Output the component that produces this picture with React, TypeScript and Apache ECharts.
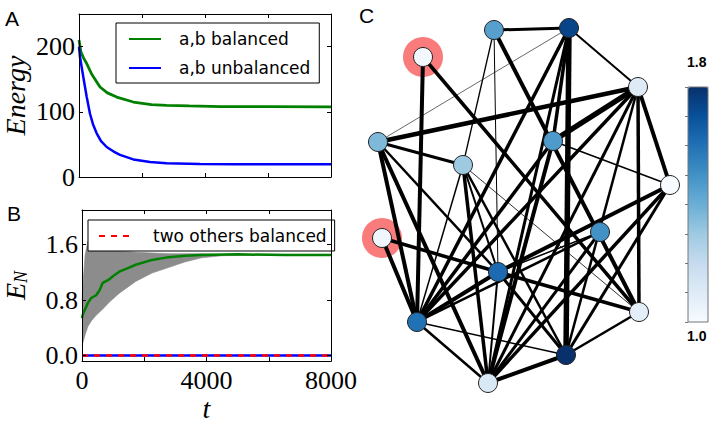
import React, { useEffect, useRef } from 'react';
import * as echarts from 'echarts';

// ---------- Panel A: Energy vs t ----------
const balancedT = [0, 60, 150, 245, 400, 667, 900, 1196, 1725, 2300, 2783, 3500, 4500, 6000, 8000];
const balancedE = [210, 192, 182, 174, 158, 138, 129, 122.6, 115, 111, 110, 109, 108, 108, 107.5];
const unbalancedT = [0, 32, 138, 244, 349, 450, 561, 700, 878, 1100, 1302, 1725, 2254, 2783, 3841, 5000, 8000];
const unbalancedE = [200, 184, 153, 123, 97, 80, 67, 55, 46, 39, 34, 27, 23, 21, 20, 19.5, 19.5];
const energyTicks = [0, 100, 200];

// ---------- Panel B: E_N vs t ----------
const bandT = [0, 40, 100, 190, 300, 455, 667, 900, 1200, 1725, 2250, 2780, 3300, 3840, 4500, 6000, 8000];
const bandLow = [0.15, 0.2, 0.3, 0.42, 0.5, 0.58, 0.67, 0.78, 0.9, 1.07, 1.19, 1.27, 1.35, 1.41, 1.44, 1.45, 1.45];
const bandHigh = [0.8, 1.1, 1.45, 1.65, 1.6, 1.56, 1.54, 1.54, 1.51, 1.49, 1.48, 1.47, 1.47, 1.47, 1.46, 1.46, 1.46];
const enT = [0, 32, 190, 296, 455, 561, 667, 878, 1037, 1196, 1513, 1725, 2254, 2783, 3312, 3841, 5000, 6500, 8000];
const enV = [0.54, 0.6, 0.76, 0.83, 0.87, 0.94, 1.05, 1.1, 1.16, 1.21, 1.27, 1.31, 1.38, 1.42, 1.44, 1.45, 1.46, 1.45, 1.45];
const othersT = [0, 8000];
const othersV = [0, 0];
const enTicks = [0, 0.8, 1.6];

// ---------- Panel C: network ----------
const nodeX = [494, 569, 423, 638, 378, 553, 463, 670, 600, 382, 498, 417, 639, 566, 488];
const nodeY = [30, 28, 57, 87, 142, 141, 165, 185, 232, 238, 272, 322, 312, 355, 383];
const nodeValue = [1.45, 1.74, 1.02, 1.1, 1.36, 1.47, 1.3, 1.0, 1.5, 1.03, 1.62, 1.6, 1.08, 1.8, 1.12];
const markedNodes = [3, 10];
const edgeSource = [1, 2, 2, 1, 1, 7, 1, 2, 2, 2, 3, 3, 5, 5, 5, 5, 5, 4, 4, 4, 4, 4, 4, 6, 6, 6, 7, 7, 7, 7, 8, 9, 8, 8, 9, 9, 10, 10, 11, 11, 11, 11, 12, 12, 13, 14, 2];
const edgeTarget = [2, 4, 5, 11, 7, 12, 13, 14, 6, 12, 12, 13, 4, 7, 12, 15, 11, 6, 8, 13, 12, 15, 14, 8, 15, 12, 15, 11, 14, 13, 11, 11, 14, 15, 15, 12, 11, 12, 12, 13, 14, 15, 14, 15, 14, 15, 15];
const edgeWidth = [3, 2, 0.6, 1, 1.3, 1.5, 4, 5.5, 3.5, 3.5, 4, 3.5, 4.5, 3, 4, 4, 2.5, 5.5, 4, 3.5, 3.5, 3, 2.5, 1.5, 4, 3.5, 3.5, 2, 2.5, 0.8, 4, 1.5, 3, 3.5, 3, 2.5, 3.5, 4, 4, 3.5, 3, 2, 1.5, 2.5, 2.5, 4, 3];
const colorMin = 1.0;
const colorMax = 1.8;
const blues = ['#f7fbff', '#deebf7', '#c6dbef', '#9ecae1', '#6baed6', '#4292c6', '#2171b5', '#08519c', '#08306b'];

const pairs = (xs: number[], ys: number[]) => xs.map((x, i) => [x, ys[i]]);

const serif = 'Liberation Serif';
const sans = 'DejaVu Sans';

function frameAxes(gridIndex: number, opts: any) {
  const tick = { show: true, inside: true, length: 4, lineStyle: { color: '#000', width: 1 } };
  const line = { show: true, onZero: false, lineStyle: { color: '#000', width: 1 } };
  return {
    x: [
      {
        type: 'value', gridIndex, position: 'bottom', min: 0, max: 8000, interval: 2000, z: 5,
        axisLine: line, axisTick: tick, splitLine: { show: false },
        axisLabel: opts.xLabel,
        name: opts.xName, nameLocation: 'middle', nameGap: opts.xNameGap,
        nameTextStyle: { fontFamily: serif, fontStyle: 'italic', fontSize: 28, color: '#000' },
      },
      {
        type: 'value', gridIndex, position: 'top', min: 0, max: 8000, interval: 2000, z: 5,
        axisLine: line, axisTick: tick, splitLine: { show: false }, axisLabel: { show: false },
      },
    ],
    y: [
      {
        type: 'value', gridIndex, position: 'left', min: opts.yMin, max: opts.yMax, z: 5,
        axisLine: line, axisTick: { ...tick, customValues: opts.yTicks }, splitLine: { show: false },
        axisLabel: {
          show: true, customValues: opts.yTicks, margin: 4, fontFamily: serif, fontSize: 26, color: '#000',
          formatter: opts.yFormatter,
        },
        name: opts.yName, nameLocation: 'middle', nameGap: opts.yNameGap, nameRotate: 90,
        nameTextStyle: opts.yNameStyle,
      },
      {
        type: 'value', gridIndex, position: 'right', min: opts.yMin, max: opts.yMax, z: 5,
        axisLine: line, axisTick: { ...tick, customValues: opts.yTicks }, splitLine: { show: false },
        axisLabel: { show: false },
      },
    ],
  };
}

export default function App() {
  const ref = useRef<HTMLDivElement>(null);
  useEffect(() => {
    document.body.style.margin = '0';
    const chart = echarts.init(ref.current!, null, { renderer: 'svg' });

    const a = frameAxes(0, {
      xLabel: { show: false },
      yMin: 0, yMax: 250, yTicks: energyTicks,
      yFormatter: (v: number) => String(v),
      yName: 'Energy', yNameGap: 50,
      yNameStyle: { fontFamily: serif, fontStyle: 'italic', fontSize: 28, color: '#000' },
    });
    const b = frameAxes(1, {
      xLabel: {
        show: true, margin: 6, fontFamily: serif, fontSize: 26, color: '#000',
        formatter: (v: number) => (v % 4000 === 0 ? String(v) : ''),
      },
      xName: 't', xNameGap: 32,
      yMin: -0.08, yMax: 2.1, yTicks: enTicks,
      yFormatter: (v: number) => v.toFixed(1),
      yName: '{m|E}{s|N}', yNameGap: 52,
      yNameStyle: {
        rich: {
          m: { fontFamily: serif, fontStyle: 'italic', fontSize: 28, color: '#000' },
          s: { fontFamily: serif, fontStyle: 'italic', fontSize: 18, color: '#000', padding: [12, 0, 0, 0] },
        },
      },
    });

    const nodes = nodeX.map((x, i) => ({
      name: 'n' + (i + 1),
      value: [x, nodeY[i]],
      itemStyle: { color: echarts.color.lerp((nodeValue[i] - colorMin) / (colorMax - colorMin), blues) },
    }));
    const links = edgeSource.map((s, i) => ({
      source: 'n' + s,
      target: 'n' + edgeTarget[i],
      lineStyle: { width: edgeWidth[i] },
    }));
    const halos = markedNodes.map((n) => [nodeX[n - 1], nodeY[n - 1]]);

    const legendCommon = {
      orient: 'vertical',
      borderColor: '#000', borderWidth: 1, borderRadius: 0, backgroundColor: '#fff',
      itemStyle: { opacity: 0 },
      selectedMode: false,
    };

    const option: any = {
      animation: false,
      backgroundColor: '#fff',
      grid: [
        { left: 79, top: 14, width: 252, height: 163 },
        { left: 79, top: 210, width: 252, height: 163 },
        { left: 0, top: 0, right: 0, bottom: 0 },
        { left: 688, top: 87, width: 20, height: 235, show: true, borderColor: '#777', borderWidth: 1, z: 10 },
      ],
      xAxis: [
        ...a.x, ...b.x,
        { type: 'value', gridIndex: 2, min: 0, max: 711, show: false },
        { type: 'value', gridIndex: 3, min: 0, max: 1, show: false },
      ],
      yAxis: [
        ...a.y, ...b.y,
        { type: 'value', gridIndex: 2, min: 0, max: 423, inverse: true, show: false },
        {
          type: 'value', gridIndex: 3, position: 'right', min: colorMin, max: colorMax, interval: 0.1, z: 10,
          axisLine: { show: false }, splitLine: { show: false }, axisLabel: { show: false },
          axisTick: { show: true, inside: true, length: 3, lineStyle: { color: '#555', width: 0.8 } },
        },
      ],
      legend: [
        {
          ...legendCommon,
          data: ['a,b balanced', 'a,b unbalanced'],
          left: 116, top: 23,
          itemWidth: 32, itemHeight: 14, itemGap: 9,
          padding: [6, 9, 5, 12],
          textStyle: { fontFamily: sans, fontSize: 17, color: '#000', padding: [0, 0, 0, 13], lineHeight: 20 },
        },
        {
          ...legendCommon,
          data: ['two others balanced'],
          left: 88, top: 220,
          itemWidth: 34, itemHeight: 14,
          padding: [6, 8, 5, 10],
          textStyle: { fontFamily: sans, fontSize: 17, color: '#000', padding: [0, 0, 0, 15], lineHeight: 20 },
        },
      ],
      visualMap: {
        type: 'continuous', min: colorMin, max: colorMax, seriesIndex: [],
        orient: 'vertical', left: 688, top: 87, itemWidth: 20, itemHeight: 235, padding: 0,
        calculable: false, hoverLink: false, inRange: { color: blues },
        text: null, showLabel: false,
      },
      graphic: [
        { type: 'text', left: 5, top: 8, style: { text: 'A', fontFamily: 'Liberation Sans', fontSize: 21, fill: '#000' } },
        { type: 'text', left: 7, top: 203, style: { text: 'B', fontFamily: 'Liberation Sans', fontSize: 21, fill: '#000' } },
        { type: 'text', left: 359, top: 5, style: { text: 'C', fontFamily: 'Liberation Sans', fontSize: 21, fill: '#000' } },
        { type: 'text', left: 687, top: 55, style: { text: '1.8', fontFamily: 'Liberation Sans', fontWeight: 'bold', fontSize: 14, fill: '#000' } },
        { type: 'text', left: 687, top: 329, style: { text: '1.0', fontFamily: 'Liberation Sans', fontWeight: 'bold', fontSize: 14, fill: '#000' } },
      ],
      series: [
        {
          type: 'line', name: 'a,b balanced', xAxisIndex: 0, yAxisIndex: 0, symbol: 'none',
          data: pairs(balancedT, balancedE), lineStyle: { color: '#008000', width: 2.8 }, itemStyle: { color: '#008000' },
        },
        {
          type: 'line', name: 'a,b unbalanced', xAxisIndex: 0, yAxisIndex: 0, symbol: 'none',
          data: pairs(unbalancedT, unbalancedE), lineStyle: { color: '#0000ff', width: 2.5 }, itemStyle: { color: '#0000ff' },
        },
        {
          type: 'line', name: 'band high', xAxisIndex: 2, yAxisIndex: 2, symbol: 'none',
          data: pairs(bandT, bandHigh), lineStyle: { width: 0.6, color: '#888' },
          areaStyle: { color: '#8c8c8c', opacity: 1, origin: 'start' },
        },
        {
          type: 'line', name: 'band low', xAxisIndex: 2, yAxisIndex: 2, symbol: 'none',
          data: pairs(bandT, bandLow), lineStyle: { width: 0.6, color: '#888' },
          areaStyle: { color: '#fff', opacity: 1, origin: 'start' },
        },
        {
          type: 'line', name: 'E_N a,b', xAxisIndex: 2, yAxisIndex: 2, symbol: 'none',
          data: pairs(enT, enV), lineStyle: { color: '#008000', width: 2.5 },
        },
        {
          type: 'line', name: 'two others unbalanced', xAxisIndex: 2, yAxisIndex: 2, symbol: 'none',
          data: pairs(othersT, othersV), lineStyle: { color: '#0000ff', width: 2.5 },
        },
        {
          type: 'line', name: 'two others balanced', xAxisIndex: 2, yAxisIndex: 2, symbol: 'none',
          data: pairs(othersT, othersV), lineStyle: { color: '#ff0000', width: 2.5, type: [6, 6] },
          itemStyle: { color: '#ff0000' },
        },
        {
          type: 'scatter', xAxisIndex: 4, yAxisIndex: 4, symbolSize: 40, z: 1, silent: true,
          data: halos, itemStyle: { color: '#fa7b7b', opacity: 1 },
        },
        {
          type: 'graph', coordinateSystem: 'cartesian2d', xAxisIndex: 4, yAxisIndex: 4, z: 3,
          symbolSize: 19, roam: false, silent: true,
          data: nodes, links,
          label: { show: false },
          itemStyle: { borderColor: '#222', borderWidth: 1, opacity: 1 },
          lineStyle: { color: '#000', opacity: 1, curveness: 0 },
          emphasis: { disabled: true },
        },
      ],
    };
    chart.setOption(option);
    return () => chart.dispose();
  }, []);
  return <div ref={ref} style={{ width: 711, height: 423 }} />;
}
